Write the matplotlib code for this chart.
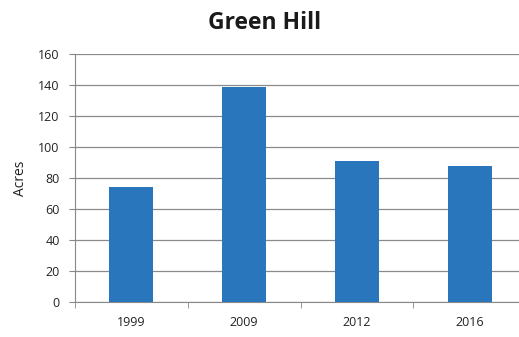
import matplotlib
matplotlib.use("Agg")
import matplotlib.pyplot as plt

# data
years = ["1999", "2009", "2012", "2016"]
acres = [74, 139, 91, 88]
yticks = [0, 20, 40, 60, 80, 100, 120, 140, 160]

plt.rcParams['font.family'] = ['Open Sans', 'DejaVu Sans']

fig = plt.figure(figsize=(5.19, 3.37), dpi=100)
ax = fig.add_axes([75/519, 35/337, 451/519, 248/337])

x = range(len(years))
ax.bar(x, acres, width=0.39, color='#2a76bd', zorder=3)

ax.set_xlim(-0.5, 3.5)
ax.set_ylim(0, 160)
ax.set_yticks(yticks)
ax.set_xticks(list(x))
ax.set_xticklabels(years)
ax.set_xticks([-0.5, 0.5, 1.5, 2.5, 3.5], minor=True)
ax.tick_params(axis='x', which='major', length=0, pad=10, labelsize=9, colors='#222222')
ax.tick_params(axis='x', which='minor', length=4, color='#888888')
ax.tick_params(axis='y', length=4, color='#888888', labelsize=9, colors='#222222', pad=7)

ax.grid(axis='y', color='#8a8a8a', linewidth=0.9, zorder=0)
for s in ['top', 'right']:
    ax.spines[s].set_visible(False)
for s in ['left', 'bottom']:
    ax.spines[s].set_color('#888888')

ax.set_ylabel("Acres", fontsize=10, color='#222222', labelpad=7)
fig.text(0.51, 0.932, "Green Hill", ha='center', va='center', fontsize=16.5, fontweight='bold', color='#1a1a1a')

fig.savefig("out.png", dpi=100)
